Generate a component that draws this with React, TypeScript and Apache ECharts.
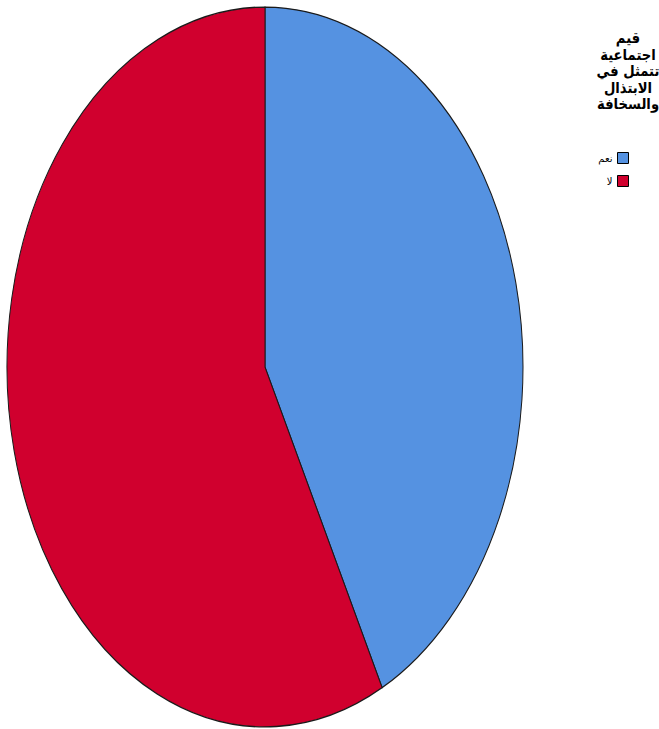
import React, { useEffect, useRef } from "react";
import * as echarts from "echarts";

const categories = ["نعم", "لا"];
const values = [42.5, 57.5];
const colors = ["#5592E1", "#D0002E"];
const titleLines = ["قيم", "اجتماعية", "تتمثل في", "الابتذال", "والسخافة"];

export default function App() {
  const ref = useRef<HTMLDivElement>(null);
  useEffect(() => {
    if (!ref.current) return;
    const chart = echarts.init(ref.current, null, { renderer: "svg" });
    const total = values.reduce((a, b) => a + b, 0);
    const cx = 265;
    const cy = 367;
    const rx = 258;
    const ry = 360;
    const series = categories.map((name, idx) => ({
      type: "custom",
      name,
      coordinateSystem: "none",
      itemStyle: { color: colors[idx] },
      data: [values[idx]],
      renderItem: (params: any, api: any) => {
        let before = 0;
        for (let k = 0; k < idx; k++) before += values[k];
        const v = api.value(0);
        const start = -Math.PI / 2 + (before / total) * Math.PI * 2;
        const end = start + (v / total) * Math.PI * 2;
        return {
          type: "sector",
          x: cx,
          y: cy,
          scaleY: ry / rx,
          shape: { cx: 0, cy: 0, r0: 0, r: rx, startAngle: start, endAngle: end, clockwise: true },
          style: { fill: colors[idx], stroke: "#1a1a1a", lineWidth: 1, strokeNoScale: true },
        };
      },
    }));
    chart.setOption({
      animation: false,
      backgroundColor: "#ffffff",
      legend: {
        data: categories,
        orient: "vertical",
        right: 30,
        top: 152,
        padding: 0,
        itemWidth: 11,
        itemHeight: 11,
        itemGap: 11,
        align: "right",
        icon: "rect",
        itemStyle: { borderColor: "#000", borderWidth: 1 },
        textStyle: { fontSize: 10, color: "#000", fontFamily: "DejaVu Sans" },
        selectedMode: false,
      },
      graphic: titleLines.map((t, i) => ({
        type: "text",
        x: 628,
        y: 38 + i * 16.5,
        scaleX: 0.88,
        style: {
          text: t,
          textAlign: "center",
          textVerticalAlign: "middle",
          font: "bold 15px 'DejaVu Sans', sans-serif",
          fill: "#000",
        },
      })),
      series,
    });
    return () => chart.dispose();
  }, []);
  return (
    <div
      ref={ref}
      style={{ position: "absolute", left: 0, top: 0, width: 659, height: 729 }}
    />
  );
}
